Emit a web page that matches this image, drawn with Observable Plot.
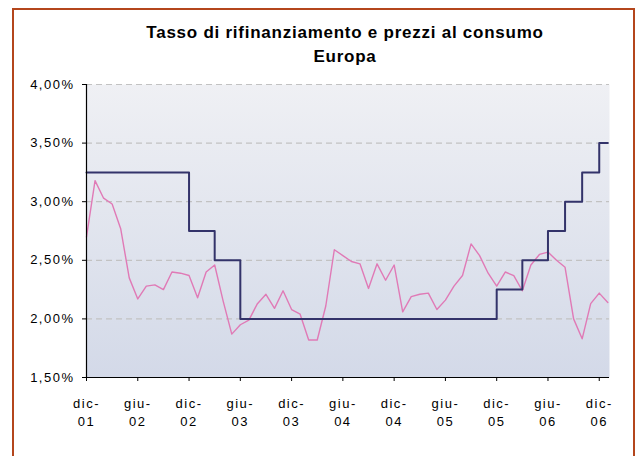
<!DOCTYPE html>
<html><head><meta charset="utf-8">
<script src="https://cdn.jsdelivr.net/npm/d3@7"></script>
<script src="https://cdn.jsdelivr.net/npm/@observablehq/plot@0.6"></script>
<style>
body{margin:0;background:#fff;font-family:"Liberation Sans",Arial,sans-serif;}
#wrap{position:relative;width:635px;height:456px;overflow:hidden;}
#box{position:absolute;left:12px;top:8px;width:623px;height:480px;border:2px solid #b4461c;box-sizing:border-box;}
#title{position:absolute;left:45px;top:21px;width:600px;text-align:center;font-weight:bold;font-size:17px;line-height:24px;letter-spacing:0.75px;color:#000;}
#chart{position:absolute;left:0;top:70px;}
</style></head>
<body><div id="wrap"><div id="box"></div>
<div id="title">Tasso di rifinanziamento e prezzi al consumo<br>Europa</div>
<div id="chart"></div></div>
<script>
const periods = ["2001-12",
 "2002-01","2002-02","2002-03","2002-04","2002-05","2002-06","2002-07","2002-08","2002-09","2002-10","2002-11","2002-12",
 "2003-01","2003-02","2003-03","2003-04","2003-05","2003-06","2003-07","2003-08","2003-09","2003-10","2003-11","2003-12",
 "2004-01","2004-02","2004-03","2004-04","2004-05","2004-06","2004-07","2004-08","2004-09","2004-10","2004-11","2004-12",
 "2005-01","2005-02","2005-03","2005-04","2005-05","2005-06","2005-07","2005-08","2005-09","2005-10","2005-11","2005-12",
 "2006-01","2006-02","2006-03","2006-04","2006-05","2006-06","2006-07","2006-08","2006-09","2006-10","2006-11","2006-12",
 "2007-01"];
const rate = [3.25,
 3.25,3.25,3.25,3.25,3.25,3.25,3.25,3.25,3.25,3.25,3.25,2.75,
 2.75,2.75,2.50,2.50,2.50,2.00,2.00,2.00,2.00,2.00,2.00,2.00,
 2.00,2.00,2.00,2.00,2.00,2.00,2.00,2.00,2.00,2.00,2.00,2.00,
 2.00,2.00,2.00,2.00,2.00,2.00,2.00,2.00,2.00,2.00,2.00,2.25,
 2.25,2.25,2.50,2.50,2.50,2.75,2.75,3.00,3.00,3.25,3.25,3.50,
 3.50];
const hicp = [2.70,
 3.18,3.03,2.98,2.77,2.35,2.17,2.28,2.29,2.25,2.40,2.39,2.37,
 2.18,2.40,2.46,2.15,1.87,1.95,1.99,2.13,2.21,2.09,2.24,2.08,
 2.04,1.82,1.82,2.11,2.59,2.54,2.49,2.47,2.26,2.47,2.33,2.46,
 2.06,2.19,2.21,2.22,2.08,2.16,2.28,2.37,2.64,2.54,2.39,2.28,
 2.40,2.37,2.24,2.46,2.55,2.57,2.50,2.44,2.00,1.83,2.13,2.22,
 2.14];
const tickPeriods = ["2001-12","2002-06","2002-12","2003-06","2003-12","2004-06","2004-12","2005-06","2005-12","2006-06","2006-12"];
const tickLabels = ["dic-\n01","giu-\n02","dic-\n02","giu-\n03","dic-\n03","giu-\n04","dic-\n04","giu-\n05","dic-\n05","giu-\n06","dic-\n06"];
const yTicks = [1.5,2.0,2.5,3.0,3.5,4.0];
const gridValues = [2.0,2.5,3.0,3.5,4.0];

const data = periods.map((p,i)=>({i, rate: rate[i], hicp: hicp[i]}));
const ticks = tickPeriods.map((p,k)=>({i: periods.indexOf(p), label: tickLabels[k]}));

const svg = Plot.plot({
  width:635, height:386,
  marginLeft:86, marginRight:26, marginTop:14, marginBottom:79,
  style:{fontFamily:'"Liberation Sans", Arial, sans-serif', fontSize:"13px", color:"#000", background:"transparent", letterSpacing:"1.5px"},
  x:{domain:[0,61.2], axis:null, label:null},
  y:{domain:[1.5,4], axis:null, label:null},
  marks:[
    Plot.frame({fill:"url(#plotbg)", stroke:null}),
    Plot.ruleY(gridValues, {stroke:"#c2c2c2", strokeDasharray:"6,4", strokeWidth:1.2}),
    Plot.line(data, {x:"i", y:"hicp", stroke:"#e07ab6", strokeWidth:1.4}),
    Plot.line(data, {x:"i", y:"rate", curve:"step-after", stroke:"#33336a", strokeWidth:2}),
    Plot.ruleX([0], {stroke:"#000", strokeWidth:1.2}),
    Plot.ruleY([1.5], {stroke:"#000", strokeWidth:1.2}),
    Plot.axisY(yTicks, {tickSize:4, tickPadding:8, tickFormat:d=>d.toFixed(2).replace(".",",")+"%", fontSize:13, label:null}),
    Plot.axisX(ticks.map(d=>d.i), {tickSize:4, tickFormat:()=>"", label:null}),
    Plot.text(ticks, {x:"i", text:"label", frameAnchor:"bottom", lineAnchor:"top", dy:17, lineHeight:1.42, fontSize:13, textAnchor:"middle"})
  ]
});
const defs = document.createElementNS("http://www.w3.org/2000/svg","defs");
defs.innerHTML = '<linearGradient id="plotbg" x1="0" y1="0" x2="0" y2="1"><stop offset="0" stop-color="#eff0f4"/><stop offset="1" stop-color="#d3d9e8"/></linearGradient>';
svg.insertBefore(defs, svg.firstChild);
document.getElementById("chart").appendChild(svg);
</script></body></html>
